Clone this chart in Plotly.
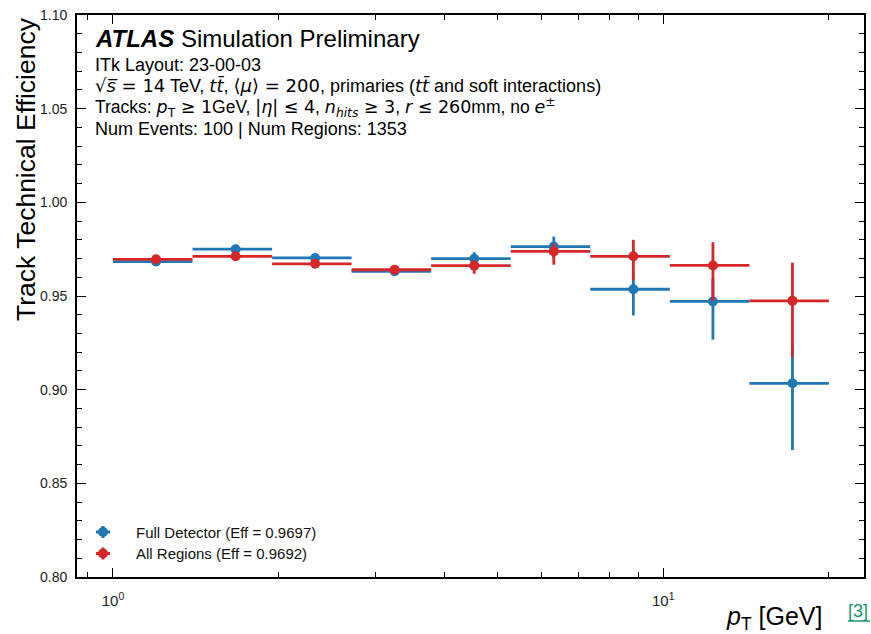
import plotly.graph_objects as go

# ---------------- data ----------------
bin_lo = [1.000, 1.395, 1.946, 2.714, 3.786, 5.282, 7.368, 10.28, 14.34]
bin_hi = [1.395, 1.946, 2.714, 3.786, 5.282, 7.368, 10.28, 14.34, 20.00]

eff_full = [0.9684, 0.9750, 0.9703, 0.9632, 0.9699, 0.9764, 0.9536, 0.9471, 0.9034]
err_full_up = [0.0010, 0.0010, 0.0012, 0.0015, 0.0035, 0.0053, 0.0095, 0.0120, 0.0200]
err_full_dn = [0.0012, 0.0012, 0.0014, 0.0018, 0.0040, 0.0062, 0.0140, 0.0204, 0.0356]

eff_reg = [0.9696, 0.9712, 0.9672, 0.9640, 0.9662, 0.9738, 0.9712, 0.9663, 0.9474]
err_reg_up = [0.0010, 0.0012, 0.0014, 0.0015, 0.0030, 0.0041, 0.0088, 0.0124, 0.0204]
err_reg_dn = [0.0012, 0.0014, 0.0016, 0.0018, 0.0043, 0.0071, 0.0126, 0.0190, 0.0301]

series_names = ["Full Detector (Eff = 0.9697)", "All Regions (Eff = 0.9692)"]
x_tick_vals = [1, 10]
x_tick_text = ["10<sup>0</sup>", "10<sup>1</sup>"]
x_minor_vals = [0.9, 2, 3, 4, 5, 6, 7, 8, 9, 20]

# ---------------- layout constants ----------------
W, H = 871, 634
L, R, T, B = 77, 7, 15, 57
PW, PH = W - L - R, H - T - B
BLUE = "#1f77b4"
RED = "#d62728"
GREEN = "#159a6a"
FONT = "Liberation Sans, Arial, Helvetica, sans-serif"


def px(x):
    return (x - L) / PW


def py(y):
    return 1 - (y - T) / PH


def m(s):
    # math-like segment, rendered in a wider sans font as matplotlib mathtext does
    return "<span style='font-family:DejaVu Sans'>" + s + "</span>"


centers = [(a + b) / 2 for a, b in zip(bin_lo, bin_hi)]

fig = go.Figure()
for eff, up, dn, col, name in [
    (eff_full, err_full_up, err_full_dn, BLUE, series_names[0]),
    (eff_reg, err_reg_up, err_reg_dn, RED, series_names[1]),
]:
    fig.add_trace(go.Scatter(
        x=centers, y=eff, mode="markers", name=name, showlegend=False,
        marker=dict(color=col, size=10, line=dict(width=0)),
        error_y=dict(type="data", symmetric=False, array=up, arrayminus=dn,
                     color=col, thickness=2.8, width=0),
        error_x=dict(type="data", symmetric=False,
                     array=[h - c for h, c in zip(bin_hi, centers)],
                     arrayminus=[c - l for c, l in zip(centers, bin_lo)],
                     color=col, thickness=2.8, width=0),
    ))

# ---------------- legend (drawn manually) ----------------
shapes = []
annotations = []
for i, (col, name) in enumerate(zip([BLUE, RED], series_names)):
    yc = 532 + i * 21.5
    xa, ya = px(103), py(yc)
    shapes.append(dict(type="line", xref="paper", yref="paper", xsizemode="pixel",
                       ysizemode="pixel", xanchor=xa, yanchor=ya, x0=-7, x1=7, y0=0, y1=0,
                       line=dict(color=col, width=3)))
    shapes.append(dict(type="line", xref="paper", yref="paper", xsizemode="pixel",
                       ysizemode="pixel", xanchor=xa, yanchor=ya, x0=0, x1=0, y0=-6, y1=6,
                       line=dict(color=col, width=3)))
    shapes.append(dict(type="circle", xref="paper", yref="paper", xsizemode="pixel",
                       ysizemode="pixel", xanchor=xa, yanchor=ya, x0=-5, x1=5, y0=-5, y1=5,
                       fillcolor=col, line=dict(color=col, width=0)))
    annotations.append(dict(text=name, xref="paper", yref="paper", x=px(134), y=py(yc),
                            xanchor="left", yanchor="middle", showarrow=False,
                            font=dict(family=FONT, size=15, color="#111")))

# ---------------- header text ----------------
header = [
    ("<b><i>ATLAS</i></b> Simulation Preliminary", 24, 38.5),
    ("ITk Layout: 23-00-03", 18, 64.5),
    (m("√<i>s̅</i> = 14") + " TeV, " + m("<i>tt̄</i>") + ", " + m("⟨<i>μ</i>⟩ = 200")
     + ", primaries (" + m("<i>tt̄</i>") + " and soft interactions)", 18, 86),
    ("Tracks: " + m("<i>p</i><sub>T</sub> ≥ 1") + "GeV, " + m("|<i>η</i>| ≤ 4") + ", "
     + m("<i>n<sub>hits</sub></i> ≥ 3") + ", " + m("<i>r</i> ≤ 260") + "mm, no "
     + m("<i>e</i><sup>±</sup>"), 17.5, 107.5),
    ("Num Events: 100 | Num Regions: 1353", 18, 129),
]
for txt, size, yc in header:
    annotations.append(dict(text=txt, xref="paper", yref="paper", x=px(93), y=py(yc),
                            xanchor="left", yanchor="middle", showarrow=False,
                            font=dict(family=FONT, size=size, color="black")))

# axis titles
annotations.append(dict(text="Track Technical Efficiency", xref="paper", yref="paper",
                        x=px(26), y=1.0, xanchor="center", yanchor="top", textangle=-90,
                        showarrow=False, font=dict(family=FONT, size=26.5, color="black")))
annotations.append(dict(text="<i>p</i><sub>T</sub> [GeV]", xref="paper", yref="paper",
                        x=px(824), y=py(618), xanchor="right", yanchor="middle",
                        showarrow=False, font=dict(family=FONT, size=25, color="black")))
annotations.append(dict(text="[3]", xref="paper", yref="paper",
                        x=px(870), y=py(611), xanchor="right", yanchor="middle",
                        showarrow=False, font=dict(family=FONT, size=18, color=GREEN)))
shapes.append(dict(type="line", xref="paper", yref="paper", x0=px(848), x1=px(870),
                   y0=py(621), y1=py(621), line=dict(color=GREEN, width=1.5)))

axis_common = dict(showline=True, linecolor="black", linewidth=1.8, mirror="allticks",
                   ticks="inside", tickcolor="black", tickwidth=1.3, ticklen=9,
                   showgrid=False, zeroline=False,
                   tickfont=dict(family=FONT, size=14, color="#222"))

fig.update_layout(
    width=W, height=H, margin=dict(l=L, r=R, t=T, b=B, autoexpand=False),
    paper_bgcolor="white", plot_bgcolor="white", showlegend=False,
    shapes=shapes, annotations=annotations,
    xaxis=dict(type="log", range=[-0.0654, 1.3648], tickvals=x_tick_vals,
               ticktext=x_tick_text, ticklabelstandoff=9,
               minor=dict(tickvals=x_minor_vals, ticks="inside", ticklen=5,
                          tickcolor="black", tickwidth=1.3),
               **axis_common),
    yaxis=dict(range=[0.80, 1.10], dtick=0.05, tick0=0.8, tickformat=".2f",
               ticklabelstandoff=5,
               minor=dict(dtick=0.01, ticks="inside", ticklen=5, tickcolor="black",
                          tickwidth=1.3),
               **axis_common),
)
fig.update_xaxes(tickfont=dict(size=15))

fig.write_html("out.html")
